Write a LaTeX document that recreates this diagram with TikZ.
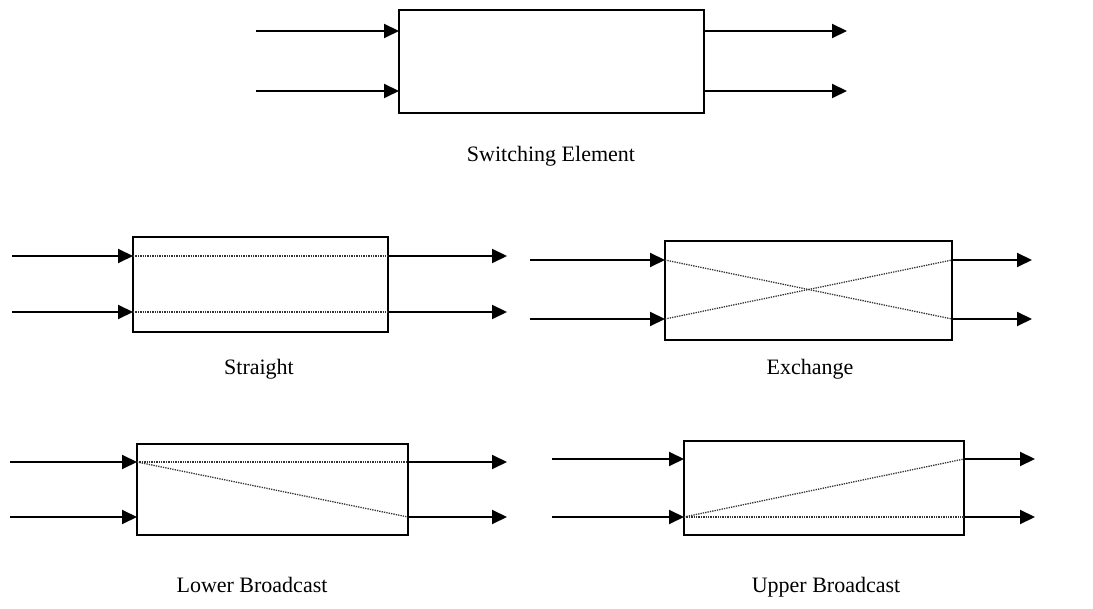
\documentclass[tikz,border=0pt]{standalone}
\usepackage{fontspec}
\setmainfont{Liberation Serif}
\usetikzlibrary{arrows.meta}
\tikzset{
  sebox/.style={draw, line width=2.8pt, inner sep=0pt, outer sep=0pt},
  wire/.style={line width=2pt, -{Triangle[length=15pt,width=14pt]}},
  route/.style={line width=1.3pt, dash pattern=on 1.3pt off 1.1pt, black!80},
  lbl/.style={font=\fontsize{22}{26}\selectfont, inner sep=0pt, anchor=base}
}
% #1 name, #2 left, #3 right, #4 top, #5 bottom, #6 upper wire y, #7 lower wire y, #8 input start x, #9 output end x
\newcommand\swunit[9]{%
  \pgfmathsetmacro\swW{#3-#2}%
  \pgfmathsetmacro\swH{#5-#4}%
  \node[sebox, anchor=north west, minimum width=\swW pt, minimum height=\swH pt] (#1) at (#2,#4) {};
  \coordinate (#1-i1) at (#8,#6);
  \coordinate (#1-i2) at (#8,#7);
  \coordinate (#1-a1) at (#2,#6);
  \coordinate (#1-a2) at (#2,#7);
  \coordinate (#1-b1) at (#3,#6);
  \coordinate (#1-b2) at (#3,#7);
  \coordinate (#1-o1) at (#9,#6);
  \coordinate (#1-o2) at (#9,#7);
  \draw[wire] (#1-i1) -- (#1-a1);
  \draw[wire] (#1-i2) -- (#1-a2);
  \draw[wire] (#1-b1) -- (#1-o1);
  \draw[wire] (#1-b2) -- (#1-o2);
}
\begin{document}
\begin{tikzpicture}[x=1pt,y=-1pt]
  \useasboundingbox (0,0) rectangle (1093,609);
  % Switching element
  \swunit{se}{399}{704}{10}{113}{31}{91}{256}{847}
  \node[lbl] (lse) at (551,162) {Switching Element};
  % Straight
  \swunit{st}{133}{388}{237}{332}{256}{312}{12}{507}
  \draw[route] (st-a1) -- (st-b1);
  \draw[route] (st-a2) -- (st-b2);
  \node[lbl] (lst) at (259,375) {Straight};
  % Exchange
  \swunit{ex}{665}{952}{241}{340}{260}{319}{530}{1032}
  \draw[route] (ex-a1) -- (ex-b2);
  \draw[route] (ex-a2) -- (ex-b1);
  \node[lbl] (lex) at (810,375) {Exchange};
  % Lower broadcast
  \swunit{lb}{137}{408}{444}{535}{462}{517}{10}{507}
  \draw[route] (lb-a1) -- (lb-b1);
  \draw[route] (lb-a1) -- (lb-b2);
  \node[lbl] (llb) at (252,592) {Lower Broadcast};
  % Upper broadcast
  \swunit{ub}{684}{964}{441}{535}{459}{517}{552}{1035}
  \draw[route] (ub-a2) -- (ub-b2);
  \draw[route] (ub-a2) -- (ub-b1);
  \node[lbl] (lub) at (826,592) {Upper Broadcast};
\end{tikzpicture}
\end{document}
